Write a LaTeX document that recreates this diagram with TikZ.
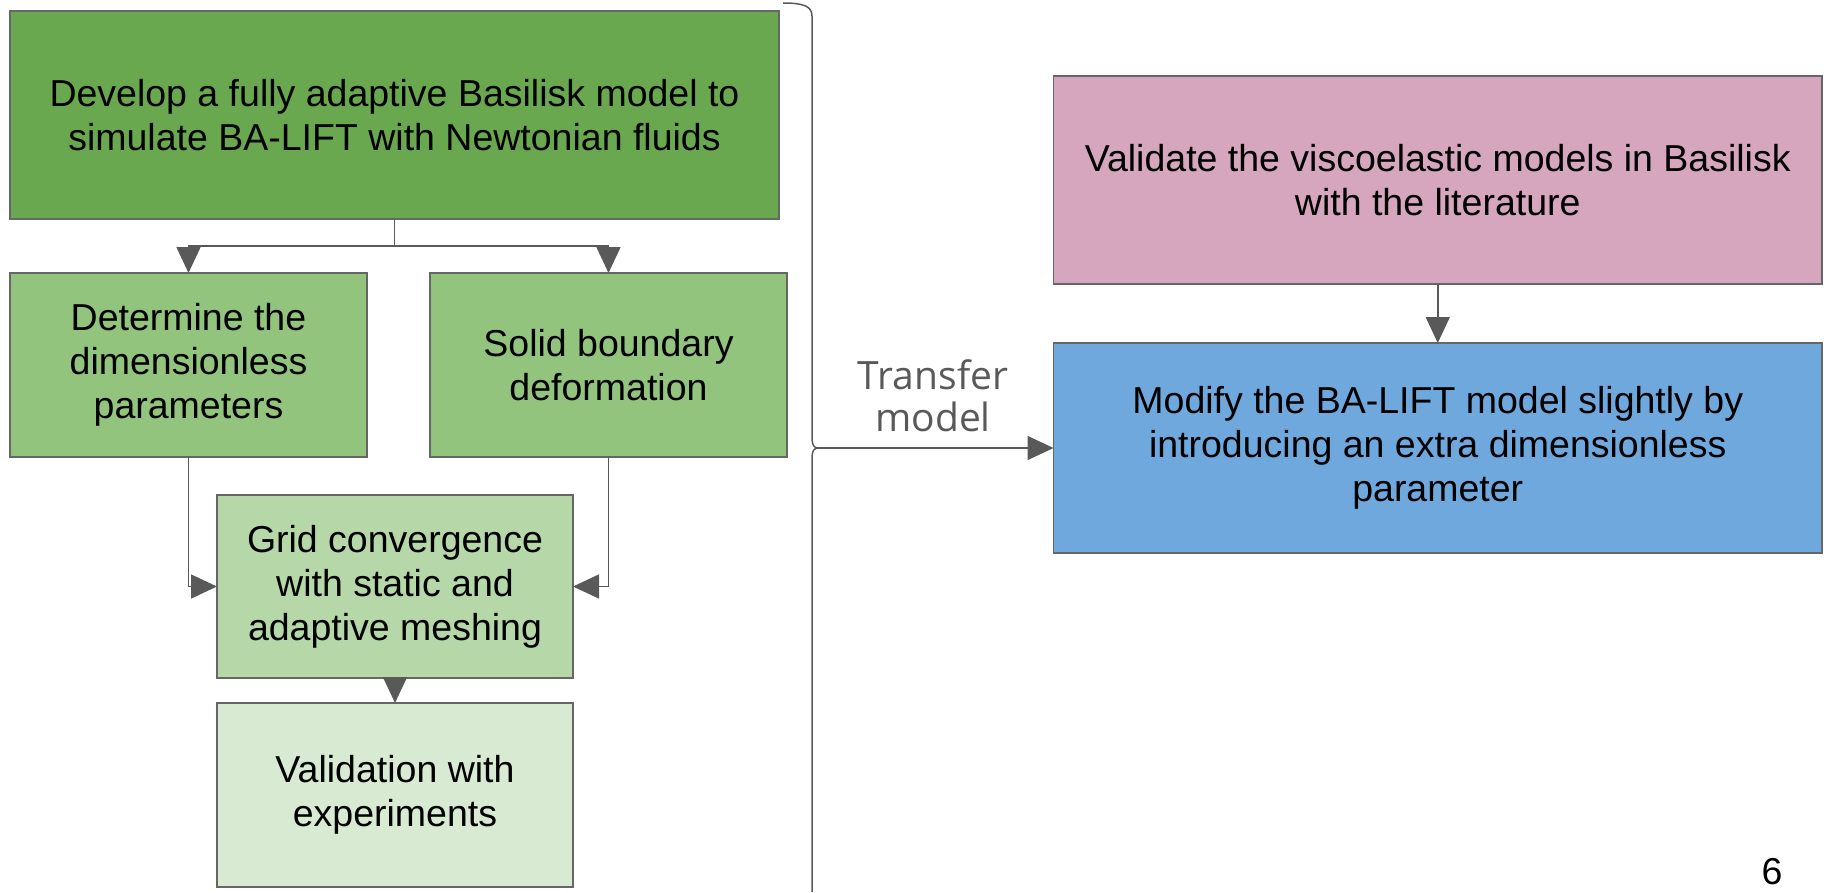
\documentclass[tikz,border=0pt]{standalone}
\usepackage{fontspec}
\setmainfont{Liberation Sans}
\newfontfamily\lblfont{Open Sans}
\usetikzlibrary{arrows.meta,calc}
\definecolor{gA}{HTML}{6AA84F}
\definecolor{gB}{HTML}{93C47D}
\definecolor{gC}{HTML}{B6D7A8}
\definecolor{gD}{HTML}{D9EAD3}
\definecolor{pinkbox}{HTML}{D5A6BD}
\definecolor{bluebox}{HTML}{6FA8DC}
\definecolor{edgegray}{HTML}{666666}
\definecolor{arrowgray}{HTML}{595959}
\begin{document}
\begin{tikzpicture}[x=1pt,y=-1pt,
  box/.style={draw=edgegray, line width=1.5pt, inner sep=0pt, outer sep=0pt,
    align=center, font=\fontsize{37.5}{44}\selectfont},
  conn/.style={draw=arrowgray, line width=1.5pt},
  tip/.style={-{Triangle[length=26pt,width=24pt]}}]
\useasboundingbox (0,0) rectangle (1826,892);
\node[box, fill=gA, minimum width=769pt, minimum height=208pt] (dev) at (394.5,115)
  {Develop a fully adaptive Basilisk model to\\simulate BA-LIFT with Newtonian fluids};
\node[box, fill=gB, minimum width=357pt, minimum height=184pt] (det) at (188.5,365)
  {Determine the\\dimensionless\\parameters};
\node[box, fill=gB, minimum width=357pt, minimum height=184pt] (sol) at (608.5,365)
  {Solid boundary\\deformation};
\node[box, fill=gC, minimum width=356pt, minimum height=183pt] (grid) at (395,586.5)
  {Grid convergence\\with static and\\adaptive meshing};
\node[box, fill=gD, minimum width=356pt, minimum height=184pt] (val) at (395,795)
  {Validation with\\experiments};
\node[box, fill=pinkbox, minimum width=768.5pt, minimum height=208pt] (pink) at (1437.75,180)
  {Validate the viscoelastic models in Basilisk\\with the literature};
\node[box, fill=bluebox, minimum width=768.5pt, minimum height=210pt] (blue) at (1437.75,448)
  {Modify the BA-LIFT model slightly by\\introducing an extra dimensionless\\parameter};
\node[font=\lblfont\fontsize{39}{42}\selectfont, text=arrowgray, align=center, inner sep=0pt] (lbl) at (933,396)
  {Transfer\\model};
\node[font=\fontsize{37.5}{44}\selectfont, inner sep=0pt] (pg) at (1772,872) {6};

\coordinate (split) at ($(dev.south)+(0,27)$);
\draw[conn] (dev.south) -- (split);
\draw[conn,tip] (split) -| (det.north);
\draw[conn,tip] (split) -| (sol.north);
\draw[conn,tip] (det.south) |- (grid.west);
\draw[conn,tip] (sol.south) |- (grid.east);
\draw[conn,tip] (grid.south) -- (val.north);
\draw[conn,tip] (pink.south) -- (blue.north);

\coordinate (btop) at (783,3);
\coordinate (btip) at (818,448);
\coordinate (bbot) at (812,892);
\draw[conn] (btop) .. controls (803,3) and (812,6) .. (812,16) -- (812,438)
  .. controls (812,445) and (814,448) .. (btip)
  .. controls (814,448) and (812,451) .. (812,458) -- (bbot);
\draw[conn,tip] (btip) -- (blue.west);
\end{tikzpicture}
\end{document}
